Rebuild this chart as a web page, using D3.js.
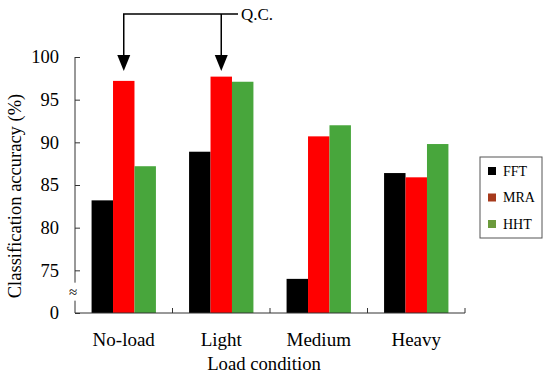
<!DOCTYPE html>
<html>
<head>
<meta charset="utf-8">
<script src="https://cdn.jsdelivr.net/npm/d3@7"></script>
<style>
  body { margin: 0; background: #fff; }
  text { font-family: "Liberation Serif", "Times New Roman", serif; fill: #000; }
</style>
</head>
<body>
<svg id="chart" width="550" height="380"></svg>
<script>
// data
const categories = ["No-load", "Light", "Medium", "Heavy"];
const seriesNames = ["FFT", "MRA", "HHT"];
const fftValues = [83.2, 88.9, 74.0, 86.4];
const mraValues = [97.2, 97.7, 90.7, 85.9];
const hhtValues = [87.2, 97.1, 92.0, 89.8];
// axis is broken: bottom of the scale (70) is labelled "0"
const tickValues = [70, 75, 80, 85, 90, 95, 100];
const tickLabels = ["0", "75", "80", "85", "90", "95", "100"];
const arrowTargets = ["No-load", "Light"]; // Q.C. points at the MRA bars

let barColors = ["#000000", "#ff0000", "#48a63c"];
let legendColors = ["#000000", "#a63a1c", "#6b9a3c"];

let svg = d3.select("#chart");
let margin = {top: 57, right: 85, bottom: 67, left: 75},
    width = 550 - margin.left - margin.right,
    height = 380 - margin.top - margin.bottom;

let g = svg.append("g")
    .attr("transform", "translate(" + margin.left + "," + margin.top + ")");

let x = d3.scaleBand()
    .domain(categories)
    .range([0, width])
    .paddingInner(0.34)
    .paddingOuter(0.17);
let xs = d3.scaleBand()
    .domain(seriesNames)
    .range([0, x.bandwidth()]);
let y = d3.scaleLinear()
    .domain([70, 100])
    .range([height, 0]);

let rows = categories.map(function(c, i) {
    return {cat: c, values: [fftValues[i], mraValues[i], hhtValues[i]]};
});

// bars
let groups = g.selectAll(".group")
    .data(rows)
    .enter().append("g")
    .attr("class", "group")
    .attr("transform", d => "translate(" + x(d.cat) + ",0)");
groups.selectAll("rect")
    .data(d => d.values.map((v, i) => ({name: seriesNames[i], value: v, i: i})))
    .enter().append("rect")
    .attr("x", d => xs(d.name))
    .attr("y", d => y(d.value))
    .attr("width", xs.bandwidth())
    .attr("height", d => height - y(d.value))
    .attr("fill", d => barColors[d.i]);

// y axis, ticks pointing inward
let yAxis = d3.axisLeft(y)
    .tickValues(tickValues)
    .tickFormat((d, i) => tickLabels[i])
    .tickSize(-5)
    .tickPadding(16);
let yg = g.append("g").call(yAxis);
yg.select(".domain").remove();
yg.selectAll(".tick line").attr("stroke", "#333");
yg.selectAll("text")
    .style("font-family", "'Liberation Serif', serif")
    .style("font-size", "18.5px");

// axis line with a break between 0 and 75
let breakTop = y(72.5) - 9, breakBottom = y(72.5) + 9;
g.append("path")
    .attr("d", "M0," + y(100) + "V" + breakTop + "M0," + breakBottom + "V" + height + "H" + width)
    .attr("stroke", "#333")
    .attr("fill", "none");
g.append("text")
    .attr("x", -2)
    .attr("y", y(72.5))
    .attr("dy", "0.35em")
    .attr("text-anchor", "middle")
    .style("font-size", "15px")
    .text("\u2248");

// x axis ticks between categories, pointing up
let xTicks = categories.map(c => x(c) + x.bandwidth() + x.step() * x.paddingInner() / 2);
g.selectAll(".xtick")
    .data(xTicks)
    .enter().append("line")
    .attr("x1", d => d).attr("x2", d => d)
    .attr("y1", height).attr("y2", height - 5)
    .attr("stroke", "#333");

g.selectAll(".xlabel")
    .data(categories)
    .enter().append("text")
    .attr("x", d => x(d) + x.bandwidth() / 2)
    .attr("y", height + 33)
    .attr("text-anchor", "middle")
    .style("font-size", "19px")
    .text(d => d);

g.append("text")
    .attr("x", width / 2 - 6)
    .attr("y", height + 57)
    .attr("text-anchor", "middle")
    .style("font-size", "18.7px")
    .text("Load condition");

svg.append("text")
    .attr("transform", "rotate(-90)")
    .attr("x", -196)
    .attr("y", 21)
    .attr("text-anchor", "middle")
    .style("font-size", "18.5px")
    .text("Classification accuracy (%)");

// legend
let legend = svg.append("g").attr("transform", "translate(480,157)");
legend.append("rect")
    .attr("width", 62).attr("height", 81)
    .attr("fill", "#fff")
    .attr("stroke", "#555");
let items = legend.selectAll(".item")
    .data(seriesNames)
    .enter().append("g")
    .attr("transform", (d, i) => "translate(0," + (14 + i * 26.5) + ")");
items.append("rect")
    .attr("x", 8).attr("y", -4)
    .attr("width", 8).attr("height", 8)
    .attr("fill", (d, i) => legendColors[i]);
items.append("text")
    .attr("x", 23)
    .attr("dy", "0.35em")
    .style("font-size", "14px")
    .text(d => d);

// Q.C. annotation
let lineY = 14;
let arrowX = arrowTargets.map(c => margin.left + x(c) + xs("MRA") + xs.bandwidth() / 2);
let tipY = 71;
svg.append("path")
    .attr("d", "M" + arrowX[0] + "," + (tipY - 14) + "V" + lineY + "H" + 238 +
        "M" + arrowX[1] + "," + lineY + "V" + (tipY - 14))
    .attr("stroke", "#000")
    .attr("stroke-width", 1.5)
    .attr("fill", "none");
svg.selectAll(".arrowhead")
    .data(arrowX)
    .enter().append("path")
    .attr("d", d => "M" + (d - 6.5) + "," + (tipY - 16) + "L" + (d + 6.5) + "," + (tipY - 16) + "L" + d + "," + tipY + "Z")
    .attr("fill", "#000");
svg.append("text")
    .attr("x", 241)
    .attr("y", lineY)
    .attr("dy", "0.35em")
    .style("font-size", "17px")
    .text("Q.C.");
</script>
</body>
</html>
